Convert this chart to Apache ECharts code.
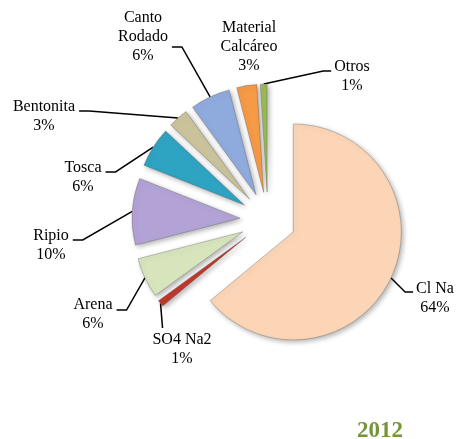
<!DOCTYPE html>
<html>
<head>
<meta charset="utf-8">
<script src="https://cdn.jsdelivr.net/npm/echarts@6/dist/echarts.min.js"></script>
<style>
  html, body { margin: 0; padding: 0; background: #ffffff; }
  #chart { width: 461px; height: 439px; }
</style>
</head>
<body>
<div id="chart"></div>
<script>
// ---- data ----
const categories = ['Cl Na', 'SO4 Na2', 'Arena', 'Ripio', 'Tosca', 'Bentonita', 'Canto\nRodado', 'Material\nCalcáreo', 'Otros'];
const values = [64, 1, 6, 10, 6, 3, 6, 3, 1];
const yearLabel = '2012';

// ---- styling / layout (not data) ----
const colors = ['#FBD5B5', '#C0392B', '#D8E4BC', '#B3A2D6', '#2FA3C2', '#C9C29A', '#8FAADC', '#F59A45', '#9BBB59'];
const pieCenter = [268, 220];
const pieRadius = 108;
const explode = 28;
const labelPos = [[435, 298], [182, 349], [93, 314], [51, 245], [83, 177], [44, 116], [143, 37], [249, 47], [352, 76]];
const attachSide = ['l', 't', 'r', 'r', 'r', 'r', 'r', null, 'l'];
const attachDy = [-6, 0, -4, -5, -5, -5, 10, 0, -5];

const chart = echarts.init(document.getElementById('chart'), null, { renderer: 'canvas' });

// exploded, visible slices
const pieData = categories.map((c, i) => ({
  name: c,
  value: values[i],
  selected: true,
  itemStyle: { color: colors[i] }
}));

// same pie geometry, invisible slices, carrying the labels and leader lines
const labelData = categories.map((c, i) => ({
  name: c,
  value: values[i],
  labelLine: { show: attachSide[i] !== null }
}));

chart.setOption({
  animation: false,
  backgroundColor: '#ffffff',
  title: {
    text: yearLabel,
    left: 352,
    top: 415,
    textStyle: {
      fontFamily: 'Liberation Serif',
      fontSize: 23,
      fontWeight: 'bold',
      color: '#77933C'
    }
  },
  series: [{
    name: 'labels',
    type: 'pie',
    silent: true,
    center: pieCenter,
    radius: [0, pieRadius],
    startAngle: 90,
    clockwise: true,
    avoidLabelOverlap: false,
    data: labelData,
    itemStyle: { color: 'rgba(0,0,0,0)', borderWidth: 0 },
    label: {
      show: true,
      position: 'outside',
      fontFamily: 'Liberation Serif',
      fontSize: 16,
      lineHeight: 19,
      color: '#000000',
      formatter: p => p.name + '\n' + Math.round(p.percent) + '%'
    },
    labelLine: {
      show: true,
      length: 10,
      length2: 10,
      lineStyle: { color: '#000000', width: 1.5 }
    },
    labelLayout: function (p) {
      const i = p.dataIndex;
      const pos = labelPos[i];
      const out = { x: pos[0], y: pos[1], align: 'center', verticalAlign: 'middle' };
      const side = attachSide[i];
      if (side && p.labelLinePoints && p.labelLinePoints.length) {
        // anchor: the library's own outer-arc point, pushed out by the explode offset
        const f = p.labelLinePoints[0];
        const vx = f[0] - pieCenter[0], vy = f[1] - pieCenter[1];
        const len = Math.sqrt(vx * vx + vy * vy) || 1;
        const a = [f[0] + explode * vx / len, f[1] + explode * vy / len];
        const w = p.labelRect.width, h = p.labelRect.height;
        let end, elbow;
        if (side === 'r') {
          end = [pos[0] + w / 2 + 4, pos[1] + attachDy[i]];
          elbow = [end[0] + 10, end[1]];
        } else if (side === 'l') {
          end = [pos[0] - w / 2 - 3, pos[1] + attachDy[i]];
          elbow = [end[0] - 8, end[1]];
        } else {
          end = [a[0] + 2, pos[1] - h / 2 - 2];
          elbow = end;
        }
        out.labelLinePoints = [a, elbow, end];
      }
      return out;
    },
    emphasis: { disabled: true }
  }, {
    name: 'slices',
    type: 'pie',
    center: pieCenter,
    radius: [0, pieRadius],
    startAngle: 90,
    clockwise: true,
    selectedMode: 'multiple',
    selectedOffset: explode,
    data: pieData,
    itemStyle: {
      borderColor: 'rgba(90,90,90,0.35)',
      borderWidth: 1,
      shadowBlur: 5,
      shadowOffsetX: 2,
      shadowOffsetY: 2,
      shadowColor: 'rgba(0,0,0,0.3)'
    },
    label: { show: false },
    labelLine: { show: false },
    emphasis: { disabled: true }
  }]
});
</script>
</body>
</html>
